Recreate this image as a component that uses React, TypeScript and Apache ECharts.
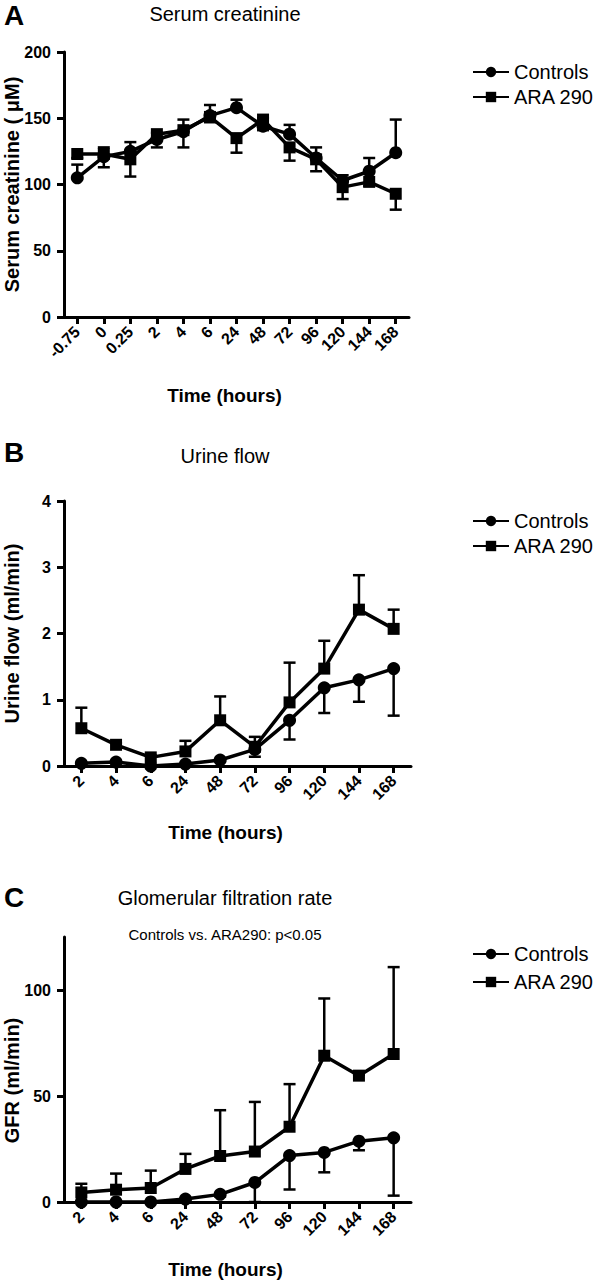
import React, { useEffect, useRef } from "react";
import * as echarts from "echarts";

// ---------- data ----------
const catsA = ["-0.75", "0", "0.25", "2", "4", "6", "24", "48", "72", "96", "120", "144", "168"];
const catsBC = ["2", "4", "6", "24", "48", "72", "96", "120", "144", "168"];

const aControls = [105, 121, 125, 134, 140, 152, 158, 144, 138, 120, 103, 110, 124];
const aControlsSem = [10, 7, 7, 5, 9, 8, 6, 6, 7, 8, 4, 10, 25];
const aAra = [123, 123, 119, 138, 141, 151, 135, 149, 128, 119, 98, 102, 93];
const aAraSem = [3, 10, 13, 10, 13, 4, 11, 8, 10, 9, 9, 3, 12];

const bControls = [0.04, 0.06, 0.0, 0.03, 0.09, 0.25, 0.69, 1.18, 1.3, 1.47];
const bControlsSem = [0.01, 0.01, 0.0, 0.01, 0.02, 0.11, 0.29, 0.38, 0.33, 0.71];
const bAra = [0.57, 0.32, 0.13, 0.22, 0.69, 0.29, 0.96, 1.47, 2.36, 2.07];
const bAraSem = [0.31, 0.03, 0.03, 0.16, 0.36, 0.15, 0.6, 0.42, 0.52, 0.29];

const cControls = [0, 0, 0, 1.4, 3.6, 9.2, 21.9, 23.4, 28.7, 30.3];
const cControlsSem = [0, 0, 0, 0.5, 1, 9.2, 16, 9.4, 4.3, 27.3];
const cAra = [4.5, 5.8, 6.6, 15.6, 21.7, 23.8, 35.5, 69, 59.6, 69.8];
const cAraSem = [4.1, 7.6, 8.2, 7.1, 21.6, 23.4, 20.1, 27, 0.5, 41];

const seriesNames = ["Controls", "ARA 290"];

// ---------- helpers ----------
const FONT = "'Liberation Sans', Arial, Helvetica, sans-serif";
const BLACK = "#000";

const renderErr = (params: any, api: any) => {
  const x = api.value(0);
  const p1 = api.coord([x, api.value(1)]);
  const p2 = api.coord([x, api.value(2)]);
  const w = 6;
  const st = { stroke: BLACK, lineWidth: 2.5 };
  return {
    type: "group",
    children: [
      { type: "line", shape: { x1: p1[0], y1: p1[1], x2: p2[0], y2: p2[1] }, style: st },
      { type: "line", shape: { x1: p2[0] - w, y1: p2[1], x2: p2[0] + w, y2: p2[1] }, style: st },
    ],
  };
};

const errSeries = (idx: number, mean: number[], sem: number[], dir: number) => ({
  type: "custom",
  xAxisIndex: idx,
  yAxisIndex: idx,
  silent: true,
  z: 2,
  renderItem: renderErr,
  data: mean.map((m, i) => [i, m, m + dir * sem[i]]),
});

const lineSeries = (idx: number, name: string, data: number[], symbol: string) => ({
  type: "line",
  name,
  xAxisIndex: idx,
  yAxisIndex: idx,
  data,
  symbol,
  symbolSize: symbol === "rect" ? 12 : 13,
  showSymbol: true,
  z: 3,
  lineStyle: { color: BLACK, width: 3.5 },
  itemStyle: { color: BLACK },
});

const axisLine = { show: true, onZero: false, lineStyle: { color: BLACK, width: 3 } };
const axisTick = { show: true, length: 7, lineStyle: { color: BLACK, width: 3 } };
const tickLabel = { color: BLACK, fontSize: 16, fontWeight: "bold", fontFamily: FONT };
const nameStyle = { color: BLACK, fontSize: 19, fontWeight: "bold", fontFamily: FONT };

const xAxis = (idx: number, cats: string[], gap: number) => ({
  type: "category",
  gridIndex: idx,
  data: cats,
  boundaryGap: true,
  axisLine,
  axisTick: { ...axisTick, alignWithLabel: true },
  axisLabel: { ...tickLabel, rotate: 45, margin: 12, interval: 0 },
  splitLine: { show: false },
  name: "Time (hours)",
  nameLocation: "middle",
  nameGap: gap,
  nameMoveOverlap: false,
  nameTextStyle: { ...nameStyle, padding: [0, 24, 0, 0] },
});

const yName = { ...nameStyle, fontSize: 20 };

const yAxis = (idx: number, max: number, interval: number, name: string, ticks: number[] | null, pad: number[]) => {
  const tickOpt: any = { ...axisTick };
  const labelOpt: any = { ...tickLabel, margin: 13 };
  if (ticks) {
    tickOpt.customValues = ticks;
    labelOpt.customValues = ticks;
  }
  return {
    type: "value",
    gridIndex: idx,
    min: 0,
    max,
    interval,
    axisLine,
    axisTick: tickOpt,
    splitLine: { show: false },
    axisLabel: labelOpt,
    name,
    nameLocation: "middle",
    nameGap: 42,
    nameMoveOverlap: false,
    nameTextStyle: { ...yName, padding: pad },
  };
};

const legend = (top: number, gap: number) => ({
  data: seriesNames,
  orient: "vertical",
  left: 467,
  top,
  itemWidth: 36,
  itemHeight: 13,
  itemGap: gap,
  selectedMode: false,
  textStyle: { color: BLACK, fontSize: 20, lineHeight: 20, fontFamily: FONT },
});

const grid = (width: number, top: number) => ({
  left: 64,
  width,
  top,
  height: 265,
  containLabel: false,
  outerBoundsMode: "none",
});

export default function App() {
  const ref = useRef<HTMLDivElement>(null);

  useEffect(() => {
    document.body.style.margin = "0";
    const chart = echarts.init(ref.current!, null, { renderer: "svg" });
    const option: any = {
      animation: false,
      backgroundColor: "#fff",
      textStyle: { fontFamily: FONT },
      grid: [grid(345, 52), grid(347, 501), grid(347, 937)],
      xAxis: [xAxis(0, catsA, 69), xAxis(1, catsBC, 57), xAxis(2, catsBC, 58)],
      yAxis: [
        yAxis(0, 200, 50, "Serum creatinine ( \u03bcM)", null, [0, 0, 0, 0]),
        yAxis(1, 4, 1, "Urine flow (ml/min)", null, [0, 0, 0, 0]),
        yAxis(2, 125, 50, "GFR (ml/min)", [0, 50, 100], [0, 22, 0, 0]),
      ],
      legend: [legend(57, 5), legend(506, 5), legend(939, 8)],
      graphic: [
        { type: "text", x: 4, y: 15, style: { text: "A", font: `bold 28px ${FONT}`, fill: BLACK, align: "left", verticalAlign: "middle" } },
        { type: "text", x: 225, y: 14, style: { text: "Serum creatinine", font: `20px ${FONT}`, fill: BLACK, align: "center", verticalAlign: "middle" } },
        { type: "text", x: 4, y: 452, style: { text: "B", font: `bold 28px ${FONT}`, fill: BLACK, align: "left", verticalAlign: "middle" } },
        { type: "text", x: 225, y: 456, style: { text: "Urine flow", font: `20px ${FONT}`, fill: BLACK, align: "center", verticalAlign: "middle" } },
        { type: "text", x: 4, y: 897, style: { text: "C", font: `bold 28px ${FONT}`, fill: BLACK, align: "left", verticalAlign: "middle" } },
        { type: "text", x: 225, y: 898, style: { text: "Glomerular filtration rate", font: `20px ${FONT}`, fill: BLACK, align: "center", verticalAlign: "middle" } },
        { type: "text", x: 225, y: 934, style: { text: "Controls vs. ARA290: p<0.05", font: `15px ${FONT}`, fill: BLACK, align: "center", verticalAlign: "middle" } },
      ],
      series: [
        errSeries(0, aControls, aControlsSem, 1),
        errSeries(0, aAra, aAraSem, -1),
        lineSeries(0, seriesNames[0], aControls, "circle"),
        lineSeries(0, seriesNames[1], aAra, "rect"),
        errSeries(1, bControls, bControlsSem, -1),
        errSeries(1, bAra, bAraSem, 1),
        lineSeries(1, seriesNames[0], bControls, "circle"),
        lineSeries(1, seriesNames[1], bAra, "rect"),
        errSeries(2, cControls, cControlsSem, -1),
        errSeries(2, cAra, cAraSem, 1),
        lineSeries(2, seriesNames[0], cControls, "circle"),
        lineSeries(2, seriesNames[1], cAra, "rect"),
      ],
    };
    chart.setOption(option);
    return () => chart.dispose();
  }, []);

  return <div ref={ref} style={{ width: 600, height: 1283 }} />;
}
